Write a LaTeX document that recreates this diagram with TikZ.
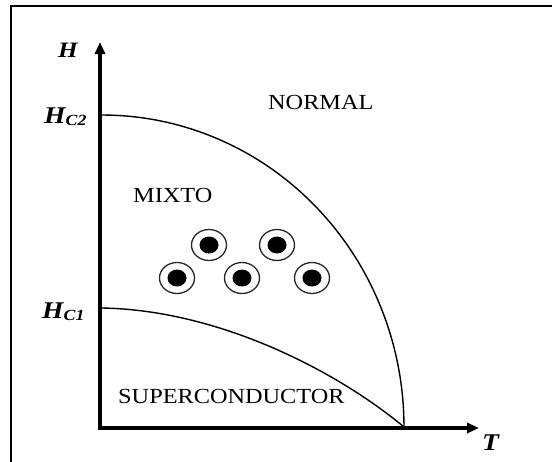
\documentclass[tikz,border=0pt]{standalone}
\usepackage{fontspec}
\setmainfont{Liberation Serif}
\newfontfamily\labfont[FakeStretch=1.13]{Liberation Serif}
\newfontfamily\axfont[FakeStretch=1.15]{Liberation Serif}
\usetikzlibrary{arrows.meta}
\begin{document}
\begin{tikzpicture}[x=1pt,y=-1pt,
  region/.style={inner sep=0pt,anchor=base west,font=\labfont\fontsize{21.5}{22}\selectfont},
  axlabel/.style={inner sep=0pt,anchor=base west,font=\axfont\bfseries\itshape\fontsize{24}{24}\selectfont},
  axisline/.style={line width=4.5pt,line join=miter,{Triangle[length=12pt,width=10pt]}-{Triangle[length=12pt,width=10pt]}},
  phase/.style={line width=1.4pt},
  ring/.style={line width=1.3pt,draw=black!85,fill=white},
  core/.style={fill=black}]
\useasboundingbox (0,0) rectangle (552,461);
\fill[white] (0,0) rectangle (552,461);
% frame
\draw[line width=2.4pt] (11,465) -- (11,6) -- (556,6);
% axes
\coordinate (htip) at (100,42);
\coordinate (origin) at (100,428);
\coordinate (ttip) at (479,428);
\draw[axisline] (htip) -- (origin) -- (ttip);
% phase boundaries
\coordinate (hc2) at (102,115);
\coordinate (hc1) at (102,308);
\coordinate (tc) at (404,427);
\draw[phase] plot[domain=0:90,samples=60,smooth] ({102+302*sin(\x)},{427-312*cos(\x)});
\draw[phase] (hc1) .. controls (220,310) and (338,372) .. (tc);
% labels
\node[axlabel,font=\axfont\bfseries\itshape\fontsize{22}{22}\selectfont] (hlab) at (58,57) {H};
\node[axlabel] (hc2lab) at (44,123) {H\raisebox{-2pt}{\fontsize{15.5}{15.5}\selectfont C2}};
\node[axlabel] (hc1lab) at (42,318) {H\raisebox{-2pt}{\fontsize{15.5}{15.5}\selectfont C1}};
\node[axlabel,font=\axfont\bfseries\itshape\fontsize{24}{24}\selectfont] (tlab) at (482,450) {T};
\node[region] (normal) at (268,109) {NORMAL};
\node[region] (mixto) at (133,202) {MIXTO};
\node[region] (sc) at (118,403) {SUPERCONDUCTOR};
% vortices
\foreach \n/\cx/\cy in {v1/209/245,v2/277/245,v3/177/278,v4/242/278,v5/312/278}{
  \draw[ring] (\cx,\cy) ellipse [x radius=17.5pt,y radius=15.5pt];
  \fill[core] (\cx,\cy) ellipse [x radius=9.5pt,y radius=8.5pt];
}
\end{tikzpicture}
\end{document}
